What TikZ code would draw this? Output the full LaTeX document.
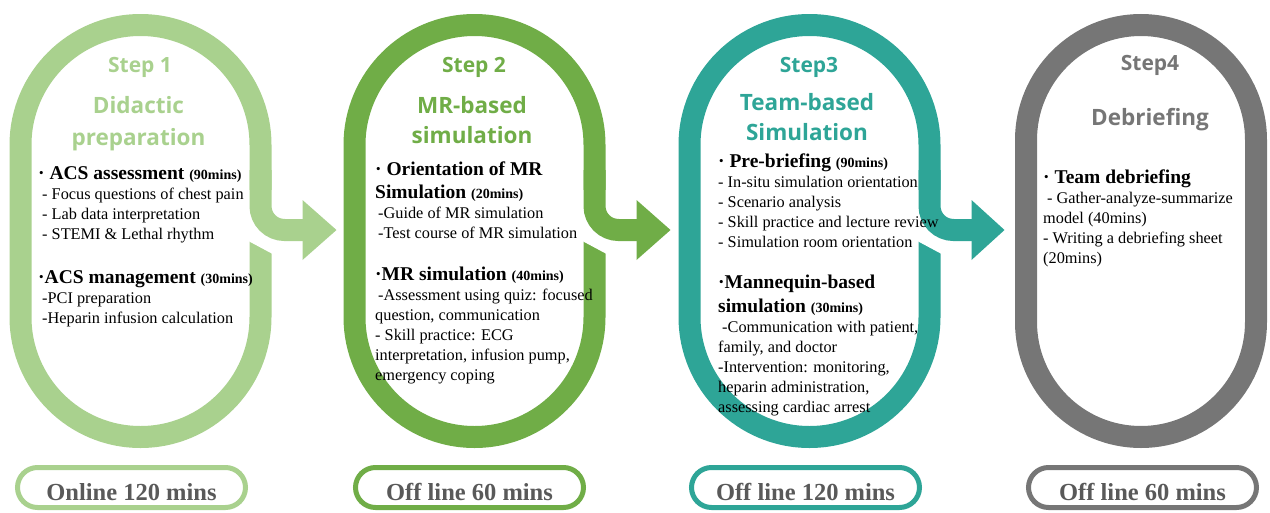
\documentclass[tikz,border=0pt]{standalone}
\usepackage{fontspec}
\setmainfont{Liberation Serif}
\newfontfamily\headfont{Open Sans}
\usepackage{tikz}

\definecolor{stepone}{HTML}{A9D18E}
\definecolor{steptwo}{HTML}{70AD47}
\definecolor{stepthree}{HTML}{2EA597}
\definecolor{stepfour}{HTML}{767676}
\definecolor{pilltext}{HTML}{595959}

% left aligned block whose base is the first line
\newcommand{\leftblock}[1]{\begin{tabular}[t]{@{}l@{}}#1\end{tabular}}
\newcommand{\topic}[2]{\textbf{\fontsize{19.5}{20}\selectfont #1 {\fontsize{14}{20}\selectfont #2}}}

\tikzset{
    ring/.style={line width=22pt},
    pill/.style={draw, line width=5pt, rounded corners=20pt, minimum width=228pt, minimum height=40pt,
        text height=25pt, text depth=0pt, inner sep=0pt, text=pilltext,
        font=\fontsize{24.5}{28}\selectfont\bfseries},
    steplabel/.style={anchor=base, inner sep=0pt, font=\headfont\bfseries\fontsize{21}{25}\selectfont},
    title/.style={anchor=base, inner sep=0pt, font=\headfont\bfseries\fontsize{22.5}{32}\selectfont},
    body/.style={anchor=base west, inner sep=0pt, font=\fontsize{16.3}{20}\selectfont}}

\begin{document}
\begin{tikzpicture}[x=1pt, y=-1pt]

            \useasboundingbox (0,0) rectangle (1270,512);

            % the four rings
            \draw[ring, stepone, rounded corners=120pt] (20.5,25) rectangle (260.5,437);
            \draw[ring, steptwo, rounded corners=120pt] (354.5,25) rectangle (594.5,437);
            \draw[ring, stepthree, rounded corners=120pt] (689.5,25) rectangle (929.5,437);
            \draw[ring, stepfour, rounded corners=115pt] (1026,25) rectangle (1256,437);

            % openings where the arrows leave the rings
            \fill[white] (246.5,190) -- (274.5,190) -- (274.5,255) -- (246.5,240) -- cycle;
            \fill[white] (580.5,190) -- (608.5,190) -- (608.5,255) -- (580.5,240) -- cycle;
            \fill[white] (915.5,190) -- (943.5,190) -- (943.5,255) -- (915.5,240) -- cycle;

            % arrows
            \draw[ring, stepone, rounded corners=24pt] (260.5,170) -- (260.5,230) -- (303.5,230);
            \fill[stepone] (302.5,200) -- (336.5,230) -- (302.5,260) -- cycle;
            \draw[ring, steptwo, rounded corners=24pt] (594.5,170) -- (594.5,230) -- (637.5,230);
            \fill[steptwo] (636.5,200) -- (670.5,230) -- (636.5,260) -- cycle;
            \draw[ring, stepthree, rounded corners=24pt] (929.5,170) -- (929.5,230) -- (972.5,230);
            \fill[stepthree] (971.5,200) -- (1004.5,230) -- (971.5,260) -- cycle;

            % time boxes
            \node[pill, draw=stepone] (pill1) at (131.5,487.5) {Online 120 mins};
            \node[pill, draw=steptwo] (pill2) at (469.5,487.5) {Off line 60 mins};
            \node[pill, draw=stepthree] (pill3) at (805.5,487.5) {Off line 120 mins};
            \node[pill, draw=stepfour] (pill4) at (1142.5,487.5) {Off line 60 mins};

            % headings
            \node[steplabel, text=stepone] (step1) at (140,72) {Step 1};
            \node[title, text=stepone] (title1a) at (138.5,113) {Didactic};
            \node[title, text=stepone] (title1b) at (138.5,145) {preparation};
            \node[steplabel, text=steptwo] (step2) at (474,72) {Step 2};
            \node[title, text=steptwo] (title2a) at (472,113) {MR-based};
            \node[title, text=steptwo] (title2b) at (472,143) {simulation};
            \node[steplabel, text=stepthree] (step3) at (809,72) {Step3};
            \node[title, text=stepthree] (title3a) at (807,110) {Team-based};
            \node[title, text=stepthree] (title3b) at (807,140) {Simulation};
            \node[steplabel, text=stepfour] (step4) at (1150,70) {Step4};
            \node[title, text=stepfour] (title4) at (1150,125) {Debriefing};

            % contents
            \node[body] (body1) at (38,179) {\leftblock{
                \topic{· ACS assessment}{(90mins)}\\
                \hspace{4pt}- Focus questions of chest pain\\
                \hspace{4pt}- Lab data interpretation\\
                \hspace{4pt}- STEMI \& Lethal rhythm\\[24pt]
                \topic{·ACS management}{(30mins)}\\
                \hspace{4pt}-PCI preparation\\
                \hspace{4pt}-Heparin infusion calculation}};
            \node[body] (body2) at (375,175) {\leftblock{
                \topic{· Orientation of MR}{}\\[3pt]
                \topic{Simulation}{(20mins)}\\
                \hspace{3pt}-Guide of MR simulation\\
                \hspace{3pt}-Test course of MR simulation\\[22pt]
                \topic{·MR simulation}{(40mins)}\\
                \hspace{3pt}-Assessment using quiz: focused\\
                question, communication\\
                - Skill practice: ECG\\
                interpretation, infusion pump,\\
                emergency coping}};
            \node[body] (body3) at (718,167) {\leftblock{
                \topic{· Pre-briefing}{(90mins)}\\
                - In-situ simulation orientation\\
                - Scenario analysis\\
                - Skill practice and lecture review\\
                - Simulation room orientation\\[21pt]
                \topic{·Mannequin-based}{}\\[4pt]
                \topic{simulation}{(30mins)}\\
                \hspace{4pt}-Communication with patient,\\
                family, and doctor\\
                -Intervention: monitoring,\\
                heparin administration,\\
                assessing cardiac arrest}};
            \node[body] (body4) at (1043,183) {\leftblock{
                \topic{· Team debriefing}{}\\
                \hspace{4pt}- Gather-analyze-summarize\\
                model (40mins)\\
                - Writing a debriefing sheet\\
                (20mins)}};

        \end{tikzpicture}
\end{document}
